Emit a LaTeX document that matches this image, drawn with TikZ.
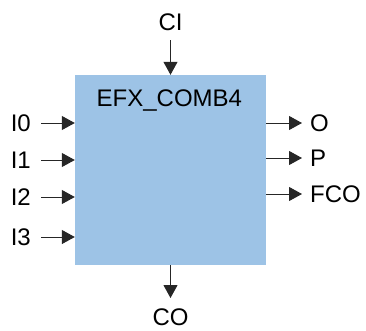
\documentclass[tikz,border=0pt]{standalone}
\usepackage{fontspec}
\setmainfont{Liberation Sans}
\usetikzlibrary{arrows.meta}
\begin{document}
\begin{tikzpicture}[x=1pt,y=-1pt,font=\fontsize{24}{29}\selectfont,
  pin/.style={-{Triangle[length=13pt,width=14pt]},line width=1pt,draw=black!85},
  inlbl/.style={anchor=east,inner xsep=10pt,inner ysep=0pt},
  outlbl/.style={anchor=west,inner xsep=8pt,inner ysep=0pt}]
  \definecolor{cell}{HTML}{9DC3E6}
  \useasboundingbox (0,0) rectangle (366,330);
  % block
  \node[fill=cell,minimum width=191pt,minimum height=190pt,inner sep=0pt] (comb) at (170.5,170) {};
  \node[anchor=west,inner sep=0pt] (name) at (96.5,101) {EFX\_COMB4};
  % inputs
  \node[inlbl] (i0) at (41,123) {I0};
  \node[inlbl] (i1) at (41,160) {I1};
  \node[inlbl] (i2) at (41,197) {I2};
  \node[inlbl] (i3) at (41,237) {I3};
  \foreach \p in {i0,i1,i2,i3}
    \draw[pin] (\p.east) -- (\p.east -| comb.west);
  % outputs
  \node[outlbl] (o) at (302,123) {O};
  \node[outlbl] (p) at (302,158) {P};
  \node[outlbl] (fco) at (302,194) {FCO};
  \foreach \p in {o,p,fco}
    \draw[pin] (\p.west -| comb.east) -- (\p.west);
  % carry
  \node[anchor=south,inner xsep=0pt,inner ysep=9pt] (ci) at (170.5,40) {CI};
  \node[anchor=north,inner xsep=0pt,inner ysep=11pt] (co) at (170.5,298) {CO};
  \draw[pin] (ci.south) -- (comb.north);
  \draw[pin] (comb.south) -- (co.north);
\end{tikzpicture}
\end{document}
